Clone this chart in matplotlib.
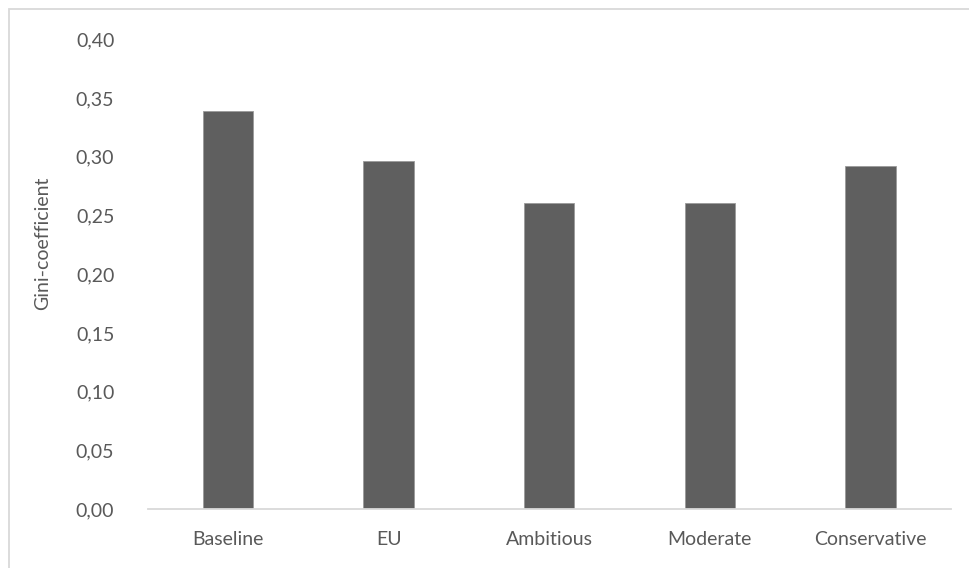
import matplotlib
matplotlib.use("Agg")
import matplotlib.pyplot as plt
from matplotlib.patches import Rectangle
from matplotlib.ticker import FuncFormatter

categories = ["Baseline", "EU", "Ambitious", "Moderate", "Conservative"]
gini = [0.339, 0.296, 0.261, 0.261, 0.292]
y_ticks = [0.00, 0.05, 0.10, 0.15, 0.20, 0.25, 0.30, 0.35, 0.40]

W, H, DPI = 969, 568, 100
plt.rcParams["font.family"] = ["Lato", "DejaVu Sans"]

fig = plt.figure(figsize=(W / DPI, H / DPI), dpi=DPI)
fig.patch.set_facecolor("white")

# chart-area frame (right and bottom edges run off the canvas)
fig.patches.append(Rectangle((8.5 / W, -0.1), 1.2, (H - 9.5) / H + 0.1,
                             transform=fig.transFigure, fill=False,
                             edgecolor="#D9D9D9", linewidth=1.3))

left, right = 147.7 / W, 950.7 / W
bottom = (H - 509) / H
top = (H - 39.4) / H
ax = fig.add_axes([left, bottom, right - left, top - bottom])

x = range(len(categories))
ax.bar(x, gini, width=0.315, color="#5F5F5F", edgecolor="#9A9A9A",
       linewidth=0.6, zorder=2)

ax.set_xlim(-0.5, len(categories) - 0.5)
ax.set_ylim(0, 0.40)
ax.set_yticks(y_ticks)
ax.yaxis.set_major_formatter(FuncFormatter(lambda v, p: f"{v:.2f}".replace(".", ",")))
ax.set_xticks(list(x))
ax.set_xticklabels(categories)

for s in ["top", "right", "left"]:
    ax.spines[s].set_visible(False)
ax.spines["bottom"].set_color("#D9D9D9")
ax.spines["bottom"].set_linewidth(1.3)

ax.tick_params(axis="both", length=0, labelsize=14, colors="#595959")
ax.tick_params(axis="y", pad=24)
ax.tick_params(axis="x", pad=16)
ax.set_ylabel("Gini-coefficient", fontsize=14, color="#595959")
ax.yaxis.set_label_coords(-97 / (950.7 - 147.7), 0.565)

fig.savefig("out.png", dpi=DPI, facecolor="white")
